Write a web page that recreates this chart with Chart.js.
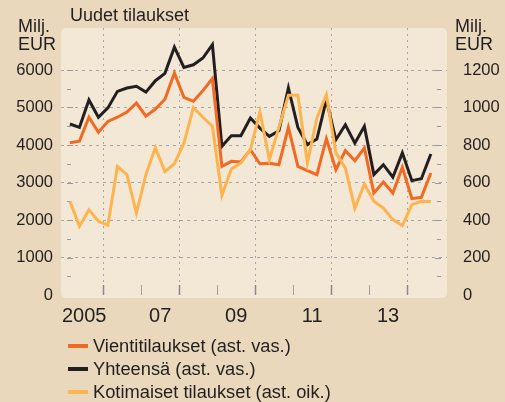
<!DOCTYPE html>
<html lang="fi">
<head>
    <meta charset="UTF-8">
    <title>Uudet tilaukset</title>
    <script src="https://cdn.jsdelivr.net/npm/chart.js"></script>
    <style>
        html, body { margin: 0; padding: 0; background: #e9d8bc; }
        .wrap { position: relative; width: 505px; height: 402px; font-family: "Liberation Sans", sans-serif; color: #231f20; }
        canvas { position: absolute; left: 0; top: 0; }
        .txt { position: absolute; font-size: 18px; line-height: 18px; white-space: nowrap; }
        .legend { position: absolute; left: 68px; top: 334px; font-size: 18.3px; }
        .legend div { height: 23px; line-height: 23px; }
        .legend span { display: inline-block; width: 20px; height: 4px; vertical-align: middle; margin-right: 5px; position: relative; top: -1px; }
    </style>
</head>
<body>
<div class="wrap">
    <canvas id="orders" width="505" height="402"></canvas>
    <div class="txt" style="left:70px; top:6px;">Uudet tilaukset</div>
    <div class="txt" style="left:18px; top:17px;">Milj.<br>EUR</div>
    <div class="txt" style="left:455px; top:17px;">Milj.<br>EUR</div>
    <div class="legend">
        <div><span style="background:#f26a21"></span>Vientitilaukset (ast. vas.)</div>
        <div><span style="background:#231f20"></span>Yhteensä (ast. vas.)</div>
        <div><span style="background:#fdb44e"></span>Kotimaiset tilaukset (ast. oik.)</div>
    </div>
</div>
<script>
    // neljännesvuodet 2005Q1 - 2014Q3
    const quarters = [];
    for (let y = 2005; y <= 2014; y++) {
        for (let q = 1; q <= 4; q++) {
            if (y === 2014 && q > 3) break;
            quarters.push(y + 'Q' + q);
        }
    }

    // milj. EUR, vasen akseli
    const vienti = [4060, 4100, 4740, 4340, 4630, 4740, 4880, 5120, 4770, 4960,
                    5220, 5920, 5270, 5165, 5450, 5770, 3430, 3565, 3550, 3875,
                    3500, 3515, 3475, 4470, 3430, 3315, 3210, 4170, 3340, 3850,
                    3580, 3920, 2720, 3010, 2720, 3405, 2570, 2605, 3255];
    const yhteensa = [4560, 4470, 5200, 4740, 4990, 5430, 5520, 5565, 5410, 5715,
                      5910, 6610, 6070, 6140, 6320, 6675, 3965, 4250, 4250, 4720,
                      4450, 4230, 4380, 5520, 4470, 4010, 4160, 5210, 4140, 4540,
                      4050, 4500, 3210, 3475, 3140, 3790, 3050, 3100, 3760];
    // milj. EUR, oikea akseli
    const kotimaiset = [500, 366, 454, 393, 372, 686, 642, 437, 642, 786,
                        658, 700, 810, 999, 948, 900, 532, 672, 704, 775,
                        976, 722, 894, 1065, 1065, 704, 944, 1068, 758, 677,
                        462, 592, 500, 464, 402, 370, 482, 500, 499];

    const leftTicks = [0, 1000, 2000, 3000, 4000, 5000, 6000];
    const rightTicks = [0, 200, 400, 600, 800, 1000, 1200];
    const yearLabels = { 2005: '2005', 2007: '07', 2009: '09', 2011: '11', 2013: '13' };

    function qx(label) {
        const y = parseInt(label.slice(0, 4), 10);
        const q = parseInt(label.slice(5), 10);
        return y + (q - 0.5) / 4;
    }
    function pts(arr) {
        return arr.map((v, i) => ({ x: qx(quarters[i]), y: v }));
    }

    const panel = {
        id: 'panel',
        beforeDraw(chart) {
            const c = chart.ctx, a = chart.chartArea;
            c.save();
            c.fillStyle = '#f3e7d6';
            c.beginPath();
            c.roundRect(a.left, a.top, a.right - a.left, a.bottom - a.top, 5);
            c.fill();
            c.restore();
        },
        beforeDatasetsDraw(chart) {
            const c = chart.ctx, a = chart.chartArea;
            const ys = chart.scales.y, xs = chart.scales.x;
            c.save();
            c.strokeStyle = '#9a9a9a';
            c.lineWidth = 1;
            // pienet merkit y-akselien päissä
            for (let v = 500; v <= 6000; v += 500) {
                const py = Math.round(ys.getPixelForValue(v)) + 0.5;
                const len = v % 1000 === 0 ? 6 : 4;
                c.beginPath();
                c.moveTo(a.left + 6, py); c.lineTo(a.left + 6 + len, py);
                c.moveTo(a.right - 6, py); c.lineTo(a.right - 6 - len, py);
                c.stroke();
            }
            // vuosimerkit alareunassa
            for (let yr = 2006; yr <= 2014; yr++) {
                const px = Math.round(xs.getPixelForValue(yr)) + 0.5;
                c.strokeStyle = yr % 2 === 0 ? '#8a8a8a' : '#a0a0a0';
                c.lineWidth = yr % 2 === 0 ? 1.5 : 1;
                c.beginPath();
                c.moveTo(px, a.bottom - 3); c.lineTo(px, a.bottom - 13);
                c.stroke();
            }
            c.restore();
        }
    };

    const xTicks = [];
    for (let yr = 2005; yr <= 2014; yr++) { xTicks.push(yr); xTicks.push(yr + 0.5); }

    new Chart(document.getElementById('orders'), {
        type: 'line',
        data: {
            datasets: [
                { label: 'Vientitilaukset (ast. vas.)', data: pts(vienti), borderColor: '#f26a21', yAxisID: 'y' },
                { label: 'Yhteensä (ast. vas.)', data: pts(yhteensa), borderColor: '#231f20', yAxisID: 'y', order: 1 },
                { label: 'Kotimaiset tilaukset (ast. oik.)', data: pts(kotimaiset), borderColor: '#fdb44e', yAxisID: 'y1', order: -1 }
            ]
        },
        options: {
            responsive: false,
            animation: false,
            layout: { padding: { top: 28, bottom: 74 } },
            elements: {
                line: { borderWidth: 3, tension: 0, borderJoinStyle: 'miter', fill: false },
                point: { radius: 0 }
            },
            plugins: { legend: { display: false }, tooltip: { enabled: false } },
            scales: {
                x: {
                    type: 'linear',
                    min: 2004.89,
                    max: 2015.05,
                    afterBuildTicks(s) { s.ticks = xTicks.map(v => ({ value: v })); },
                    afterFit(s) { s.height = 30; },
                    ticks: {
                        autoSkip: false, maxRotation: 0, padding: 6,
                        color: '#231f20',
                        font: { family: 'Liberation Sans', size: 20 },
                        callback(v) {
                            return (v % 1 === 0.5) ? (yearLabels[Math.floor(v)] || '') : '';
                        }
                    },
                    grid: {
                        drawTicks: false,
                        color(ctx) {
                            const v = ctx.tick && ctx.tick.value;
                            return (v % 2 === 0) ? '#a5a5a5' : 'rgba(0,0,0,0)';
                        }
                    },
                    border: { display: false, dash: [2, 4] }
                },
                y: {
                    position: 'left',
                    min: -80,
                    max: 7120,
                    afterBuildTicks(s) { s.ticks = leftTicks.map(v => ({ value: v })); },
                    afterFit(s) { s.width = 61; },
                    ticks: {
                        padding: 8,
                        color: '#231f20',
                        font: { family: 'Liberation Sans', size: 16.5 },
                        callback: v => String(v)
                    },
                    grid: {
                        drawTicks: false,
                        color(ctx) {
                            const v = ctx.tick && ctx.tick.value;
                            return v > 0 ? '#a8a8a8' : 'rgba(0,0,0,0)';
                        }
                    },
                    border: { display: false, dash: [3, 4] }
                },
                y1: {
                    position: 'right',
                    min: -16,
                    max: 1424,
                    afterBuildTicks(s) { s.ticks = rightTicks.map(v => ({ value: v })); },
                    afterFit(s) { s.width = 58; },
                    ticks: {
                        padding: 8,
                        color: '#231f20',
                        font: { family: 'Liberation Sans', size: 16.5 },
                        callback: v => String(v)
                    },
                    grid: { display: false },
                    border: { display: false }
                }
            }
        },
        plugins: [panel]
    });
</script>
</body>
</html>
